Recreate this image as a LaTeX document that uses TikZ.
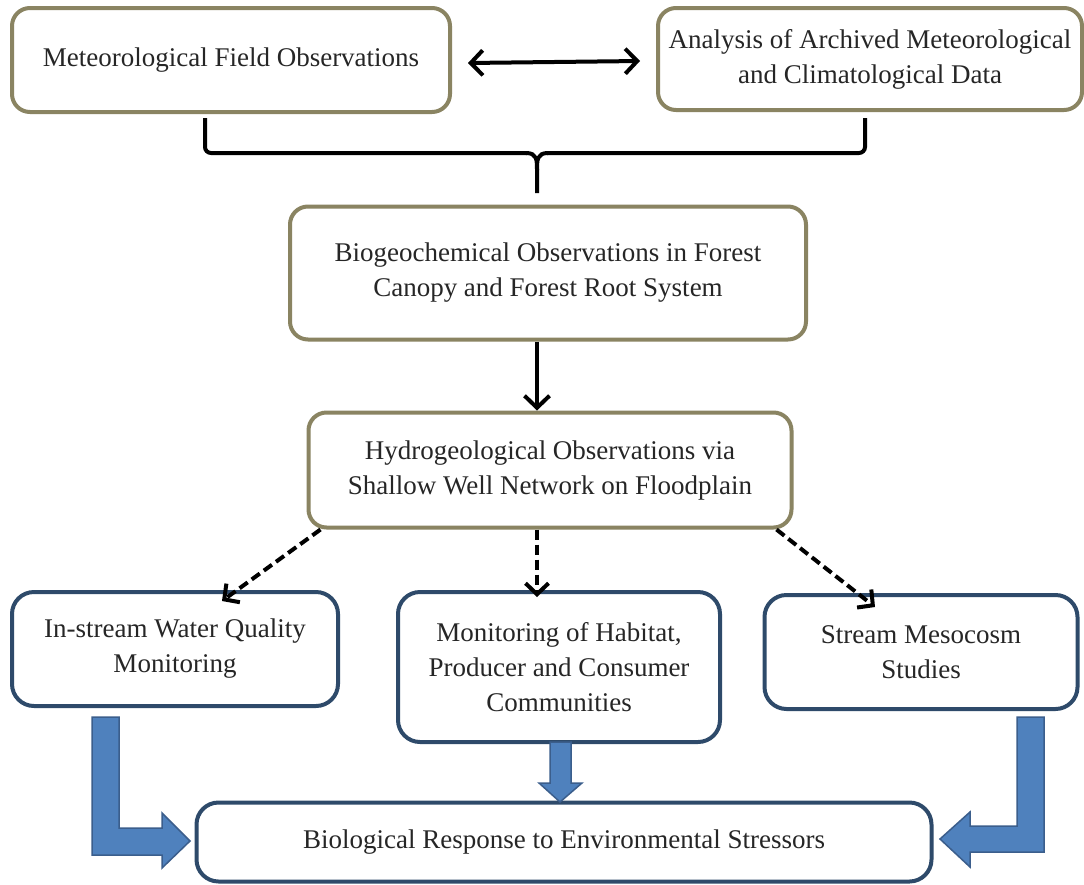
\documentclass[tikz,border=0pt]{standalone}
\usepackage{fontspec}
\setmainfont{Liberation Serif}
\usetikzlibrary{arrows.meta,calc}
\definecolor{olivebd}{HTML}{8A8462}
\definecolor{bluebd}{HTML}{2E4A6A}
\definecolor{blkfill}{HTML}{4F81BD}
\definecolor{blkbd}{HTML}{3B5E8C}
\definecolor{txt}{HTML}{262626}
\begin{document}
\begin{tikzpicture}[x=1pt,y=-1pt,
  every node/.style={font=\fontsize{27}{35}\selectfont, text=txt, align=center, inner sep=0pt},
  topbox/.style={draw=olivebd, line width=4pt, rounded corners=18pt, fill=white},
  botbox/.style={draw=bluebd, line width=4pt, rounded corners=22pt, fill=white},
  arr/.style={line width=4pt, -{Straight Barb[length=12pt,width=25pt,line width=4pt]}},
  dblarr/.style={line width=4pt, {Straight Barb[length=12pt,width=25pt,line width=4pt]}-{Straight Barb[length=12pt,width=25pt,line width=4pt]}},
  dasharr/.style={line width=4pt, dash pattern=on 10pt off 5pt, -{Straight Barb[length=11pt,width=23pt,line width=4pt]}},
  bracket/.style={line width=4pt},
  blockarrow/.style={fill=blkfill, draw=blkbd, line width=1.5pt, line join=miter}
]
\useasboundingbox (0,0) rectangle (1084,884);
\fill[white] (0,0) rectangle (1084,884);

% nodes
\node[topbox, minimum width=438pt, minimum height=104pt] (b1) at (231,60) {\raisebox{4pt}{Meteorological Field Observations}};
\node[topbox, minimum width=424pt, minimum height=102pt] (b2) at (870,59) {Analysis of Archived Meteorological\\and Climatological Data};
\node[topbox, minimum width=516pt, minimum height=133pt] (b3) at (548,273) {Biogeochemical Observations in Forest\\Canopy and Forest Root System};
\node[topbox, minimum width=483pt, minimum height=115pt] (b4) at (550,470) {Hydrogeological Observations via\\Shallow Well Network on Floodplain};
\node[botbox, minimum width=326pt, minimum height=114pt] (b5) at (175,649) {In-stream Water Quality\\Monitoring};
\node[botbox, minimum width=322pt, minimum height=150pt] (b6) at (559,667) {Monitoring of Habitat,\\Producer and Consumer\\Communities};
\node[botbox, minimum width=313pt, minimum height=114pt] (b7) at (921,652) {Stream Mesocosm\\Studies};
\node[botbox, minimum width=735pt, minimum height=79pt] (b8) at (564,842) {Biological Response to Environmental Stressors};

% double arrow
\draw[dblarr] ([xshift=16pt,yshift=-3pt]b1.east) -- ([xshift=-16pt,yshift=-2pt]b2.west);

% bracket
\coordinate (bl) at ($(b1.south)+(-26,4)$);
\coordinate (br) at ($(b2.south)+(-5,6)$);
\coordinate (bj) at (537,153);
\coordinate (bs) at (537,193);
\draw[bracket, rounded corners=6pt] (bl) -- (bl |- bj) -- ($(bj)+(-10,0)$);
\draw[bracket, rounded corners=6pt] (br) -- (br |- bj) -- ($(bj)+(10,0)$);
\draw[bracket] ($(bj)+(-11,0)$) .. controls (537,153) and (537,160) .. (537,170) -- (bs);
\draw[bracket] ($(bj)+(11,0)$) .. controls (537,153) and (537,160) .. (537,170);

% down arrow
\draw[arr] ([xshift=-11pt]b3.south) -- ([xshift=-13pt]b4.north);

% dashed arrows
\draw[dasharr] ([xshift=14pt]b4.south west) -- ([xshift=47pt,yshift=-11pt]b5.north);
\draw[dasharr] ([xshift=-13pt]b4.south) -- ([xshift=-22pt,yshift=-7pt]b6.north);
\draw[dasharr] ([xshift=-17pt]b4.south east) -- ([xshift=-46pt,yshift=-14pt]b7.north);

% block arrows
\draw[blockarrow] (92,717) -- (119,717) -- (119,828) -- (162,828) -- (162,813) -- (190,841) -- (162,868) -- (162,855) -- (92,855) -- cycle;
\draw[blockarrow] (1017,717) -- (1044,717) -- (1044,852) -- (970,852) -- (970,867) -- (940,839) -- (970,812) -- (970,826) -- (1017,826) -- cycle;
\draw[blockarrow] (550,742) -- (571,742) -- (571,783) -- (582,783) -- (560,802) -- (539,783) -- (550,783) -- cycle;
\end{tikzpicture}
\end{document}
